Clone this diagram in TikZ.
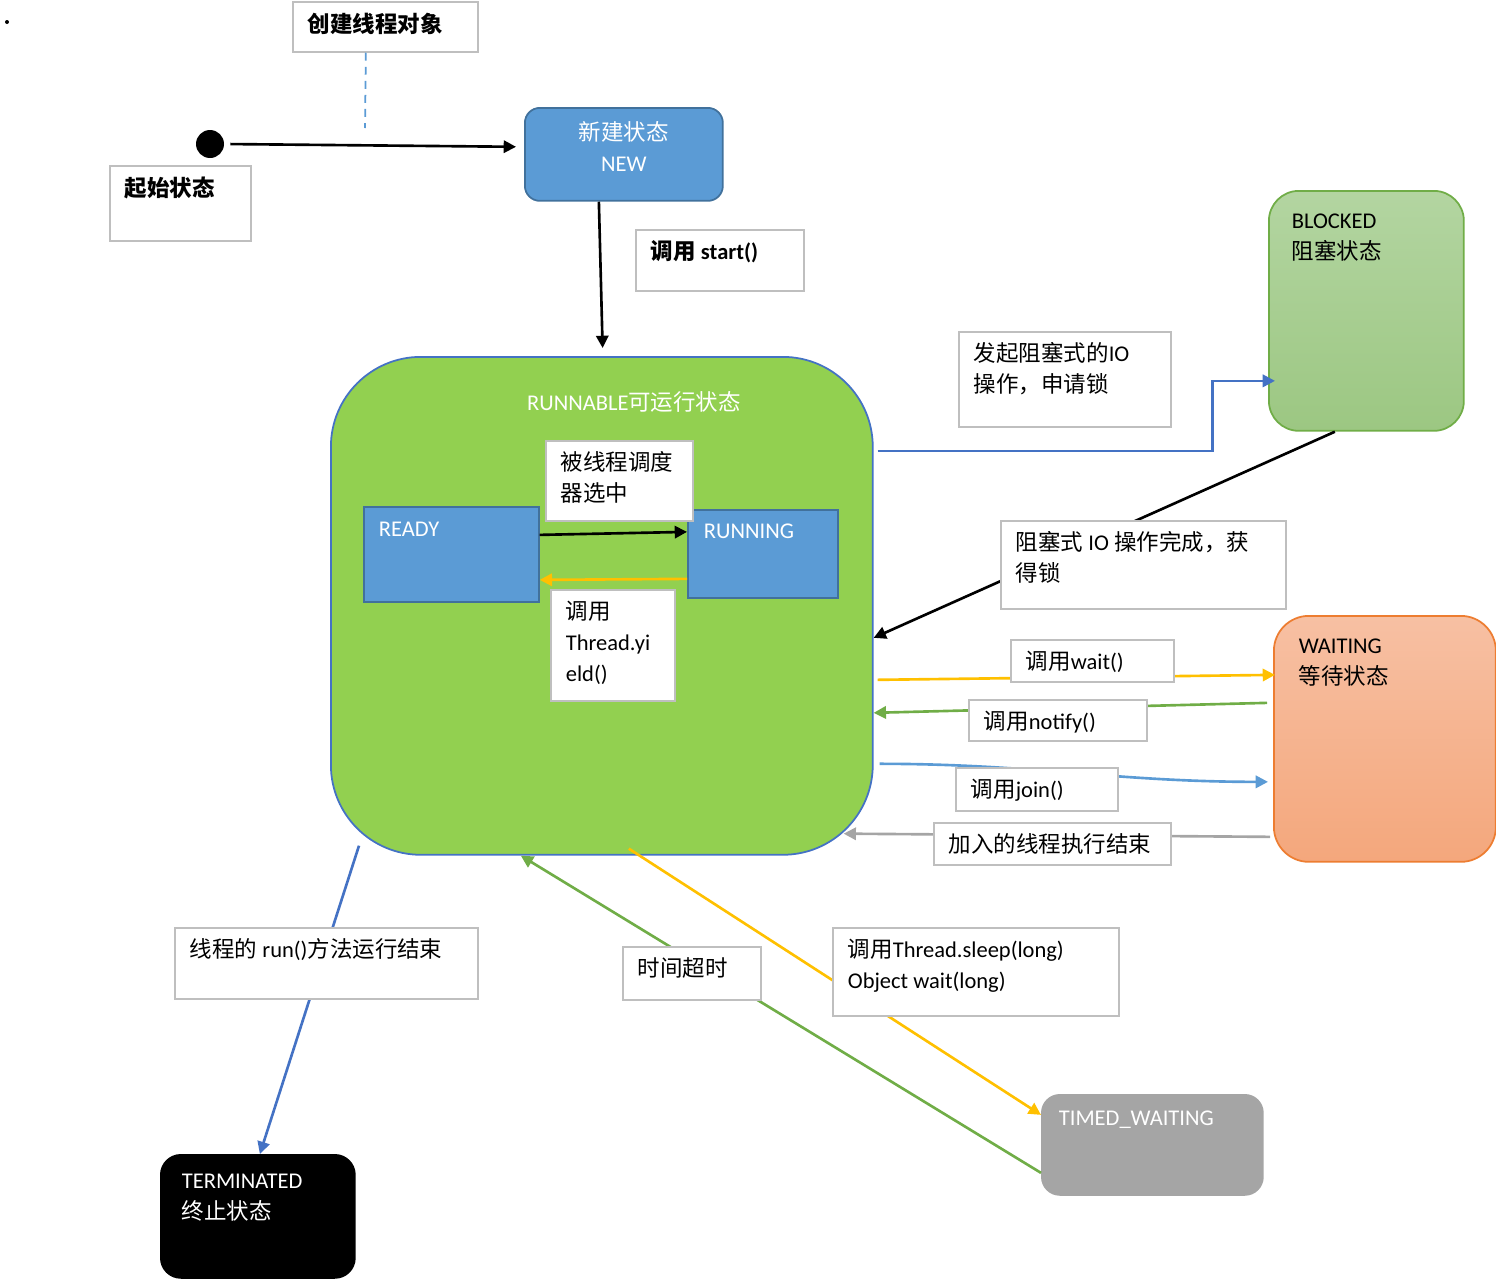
\documentclass[tikz,border=0pt]{standalone}
\usepackage{fontspec}
\setmainfont{Carlito}
\newfontfamily\cjk{Noto Sans CJK SC}
\usepackage{tikz}
\usetikzlibrary{arrows.meta}

\definecolor{notegray}{HTML}{BFBFBF}
\definecolor{newblue}{HTML}{5B9BD5}
\definecolor{newedge}{HTML}{41719C}
\definecolor{runnablegreen}{HTML}{92D050}
\definecolor{runnableedge}{HTML}{4472C4}
\definecolor{blockedtop}{HTML}{B3D5A1}
\definecolor{blockedbot}{HTML}{9CC782}
\definecolor{blockededge}{HTML}{70AD47}
\definecolor{waitingtop}{HTML}{F7C0A3}
\definecolor{waitingbot}{HTML}{F4A77C}
\definecolor{waitingedge}{HTML}{ED7D31}
\definecolor{timedgray}{HTML}{A5A5A5}
\definecolor{edgeblue}{HTML}{4472C4}
\definecolor{joinblue}{HTML}{5B9BD5}
\definecolor{yellowline}{HTML}{FFC000}
\definecolor{greenline}{HTML}{70AD47}
\definecolor{grayline}{HTML}{A5A5A5}

% text box inside a node: width, height, content (top aligned)
\newcommand{\inbox}[3]{\parbox[c][#2][t]{#1}{#3}}

\begin{document}
\begin{tikzpicture}[
    x=0.02cm, y=-0.02cm,
    every node/.style={font=\fontsize{12.8}{17.6}\selectfont},
    >={Triangle[length=7pt, width=7pt]},
    flow/.style={->, line width=1.5pt},
    note/.style={draw=notegray, line width=1pt, fill=white, anchor=north west, inner xsep=0.3cm, inner ysep=0.22cm},
    statebox/.style={line width=1pt, anchor=north west, inner sep=0pt},
]
\useasboundingbox (0,0) rectangle (1496,1278);

% States
\node[circle, fill=black, minimum size=0.08cm, inner sep=0pt] (dot) at (7,22) {};
\node[circle, fill=black, minimum size=0.56cm, inner sep=0pt] (init) at (210,144) {};
\node[statebox, rounded corners=0.3cm, fill=newblue, draw=newedge, minimum width=3.96cm, minimum height=1.86cm, align=center, text=white, text depth=0.3cm] (new) at (524,107) {{\cjk 新建状态}\\NEW};
\node[statebox, rounded corners=1.8cm, fill=runnablegreen, draw=runnableedge, minimum width=10.84cm, minimum height=9.96cm] (runnable) at (330,356) {};
\node[text=white] (runtitle) at (634,402) {RUNNABLE{\cjk 可运行状态}};
\node[statebox, fill=newblue, draw=newedge, inner xsep=0.3cm, inner ysep=0.3cm, text=white] (ready) at (363,506) {\inbox{2.9cm}{1.3cm}{READY}};
\node[statebox, fill=newblue, draw=newedge, inner xsep=0.32cm, inner ysep=0.28cm, text=white] (running) at (687,509) {\inbox{2.36cm}{1.2cm}{RUNNING}};
\node[statebox, rounded corners=0.6cm, top color=blockedtop, bottom color=blockedbot, draw=blockededge, inner xsep=0.46cm, inner ysep=0.46cm] (blocked) at (1268,190) {\inbox{2.98cm}{3.88cm}{BLOCKED\\{\cjk 阻塞状态}}};
\node[statebox, rounded corners=0.7cm, top color=waitingtop, bottom color=waitingbot, draw=waitingedge, inner xsep=0.5cm, inner ysep=0.46cm] (waiting) at (1273,615) {\inbox{3.44cm}{4.0cm}{WAITING\\{\cjk 等待状态}}};
\node[statebox, rounded corners=0.4cm, fill=black, draw=black, text=white, inner xsep=0.42cm, inner ysep=0.38cm] (terminated) at (160,1154) {\inbox{3.04cm}{1.7cm}{TERMINATED\\{\cjk 终止状态}}};
\node[statebox, rounded corners=0.36cm, fill=timedgray, draw=timedgray, text=white, inner xsep=0.34cm, inner ysep=0.32cm] (timed) at (1041,1094) {\inbox{3.74cm}{1.36cm}{TIMED\_WAITING}};

% Transitions
\draw[flow, shorten <=0.12cm, shorten >=0.16cm] (init.east) -- ([yshift=0.15cm]new.west);
\draw[flow, shorten >=0.16cm] ([xshift=-0.5cm]new.south) -- ([xshift=0.02cm]runnable.north);
\draw[flow] ([yshift=0.39cm]ready.east) -- ([yshift=0.44cm]running.west);
\draw[flow, yellowline] ([yshift=-0.5cm]running.west) -- ([yshift=-0.51cm]ready.east);
\draw[flow, edgeblue] ([xshift=0.08cm, yshift=3.1cm]runnable.east) -- ++(335,0) |- ([xshift=0.14cm, yshift=-1.4cm]blocked.west);
\draw[flow] ([xshift=-0.63cm]blocked.south) -- ([yshift=-0.64cm]runnable.east);
\draw[flow, yellowline] ([xshift=0.08cm, yshift=-1.48cm]runnable.east) -- ([xshift=0.04cm, yshift=1.28cm]waiting.west);
\draw[flow, greenline] ([xshift=-0.12cm, yshift=0.72cm]waiting.west) -- ([yshift=-2.14cm]runnable.east);
\draw[flow, joinblue] ([xshift=0.12cm, yshift=-3.16cm]runnable.east) to[out=0, in=180] ([xshift=-0.1cm, yshift=-0.86cm]waiting.west);
\draw[flow, grayline] ([xshift=-0.06cm, yshift=-1.96cm]waiting.west) -- ([xshift=-0.6cm, yshift=0.44cm]runnable.south east);
\draw[flow, edgeblue] ([xshift=0.58cm, yshift=0.2cm]runnable.south west) -- ([xshift=0.04cm]terminated.north);
\draw[flow, greenline] ([yshift=-0.56cm]timed.west) -- ([xshift=-1.62cm]runnable.south);
\draw[flow, yellowline] ([xshift=0.54cm, yshift=0.14cm]runnable.south) -- ([yshift=0.6cm]timed.west);

% Labels
\node[note] (create) at (292,1) {\inbox{3.1cm}{0.56cm}{\cjk\bfseries 创建线程对象}};
\coordinate (dashend) at (365,128);
\draw[dashed, dash pattern=on 4.5pt off 3.5pt, joinblue, line width=1pt] ([xshift=-0.39cm]create.south) -- (dashend);
\node[note] (startnote) at (109,165) {\inbox{2.22cm}{1.06cm}{\cjk\bfseries 起始状态}};
\node[note] (startcall) at (635,229) {\inbox{2.76cm}{0.78cm}{\bfseries{\cjk 调用} start()}};
\node[note] (chosen) at (545,440) {\inbox{2.34cm}{1.16cm}{\cjk 被线程调度\\器选中}};
\node[note] (yieldcall) at (550,589) {\inbox{1.88cm}{1.78cm}{{\cjk 调用}\\Thread.yi\\eld()}};
\node[note] (ionote) at (958,331) {\inbox{3.64cm}{1.46cm}{{\cjk 发起阻塞式的}IO\\{\cjk 操作，申请锁}}};
\node[note] (iodone) at (1000,520) {\inbox{5.1cm}{1.32cm}{{\cjk 阻塞式} IO {\cjk 操作完成，获}\\{\cjk 得锁}}};
\node[note] (waitcall) at (1010,639) {\inbox{2.66cm}{0.4cm}{{\cjk 调用}wait()}};
\node[note] (notifycall) at (968,699) {\inbox{2.96cm}{0.38cm}{{\cjk 调用}notify()}};
\node[note] (joincall) at (955,767) {\inbox{2.64cm}{0.42cm}{{\cjk 调用}join()}};
\node[note] (joinend) at (933,822) {\inbox{4.14cm}{0.4cm}{\cjk 加入的线程执行结束}};
\node[note] (runend) at (174,927) {\inbox{5.46cm}{0.98cm}{{\cjk 线程的} run(){\cjk 方法运行结束}}};
\node[note] (timeout) at (622,946) {\inbox{2.16cm}{0.62cm}{\cjk 时间超时}};
\node[note] (sleepcall) at (832,927) {\inbox{5.12cm}{1.32cm}{{\cjk 调用}Thread.sleep(long)\\Object wait(long)}};

\end{tikzpicture}
\end{document}
